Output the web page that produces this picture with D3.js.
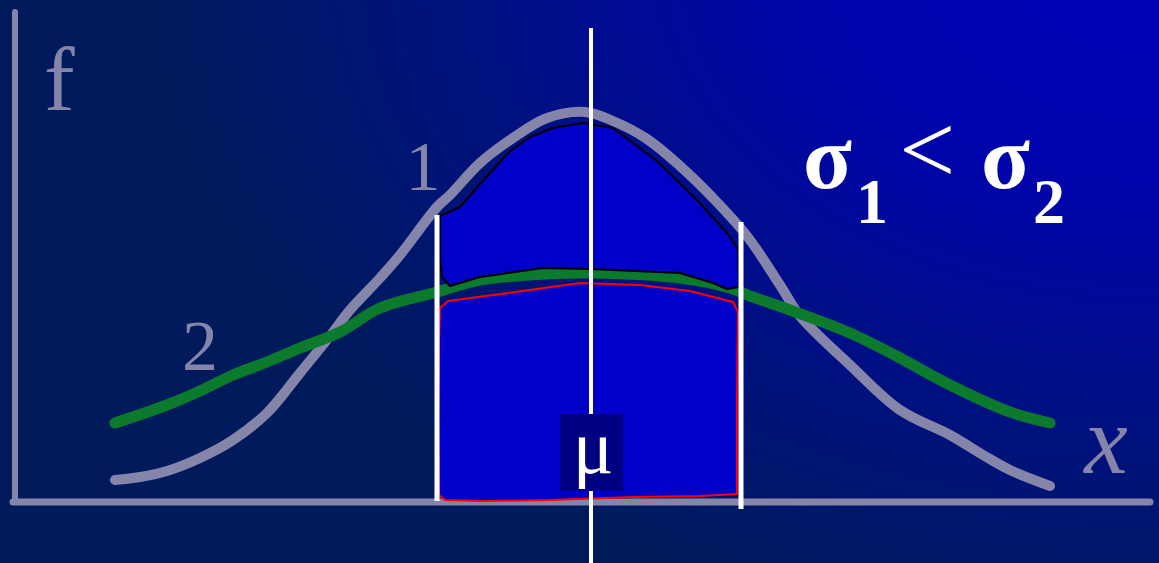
<!DOCTYPE html>
<html>
<head>
<meta charset="utf-8">
<script src="https://cdn.jsdelivr.net/npm/d3@7"></script>
<style>
  html, body { margin: 0; padding: 0; background: #001a5c; overflow: hidden; }
  svg { display: block; }
</style>
</head>
<body>
<div id="chart"></div>
<script>
// Hand-read positions (x along the axis, height above the axis)
const curve1X = [100, 125, 152, 185, 218, 252, 285, 315, 335, 365, 385, 422, 435, 465, 498, 532, 570, 598, 632, 665, 698, 732, 765, 785, 835, 885, 935, 968, 995, 1035];
const curve1Y = [22, 25, 31, 44, 62, 89, 129, 166, 192, 224, 247, 295, 307, 339, 364, 384, 390, 381, 363, 336, 304, 266, 217, 186, 137, 92, 67, 47, 32, 16];

const curve2X = [100, 152, 185, 218, 252, 285, 325, 365, 422, 465, 532, 575, 665, 715, 735, 775, 835, 885, 935, 995, 1035];
const curve2Y = [79, 97, 111, 127, 140, 154, 170, 194, 210, 222, 228, 229, 224, 214, 206, 192, 169, 144, 117, 90, 79];

// Area between curve 1 and curve 2 inside the interval
const upperX = [425, 445, 465, 475, 493, 515, 538, 568, 598, 642, 682, 712, 723, 724, 712, 698, 665, 575, 528, 465, 435, 427, 425];
const upperY = [286, 295, 318, 329, 349, 365, 374, 379, 374, 341, 302, 269, 253, 215, 213, 219, 229, 233, 234, 225, 216, 225, 245];

// Area under curve 2 inside the interval
const lowerX = [425, 433, 500, 565, 625, 675, 718, 723, 722, 722, 685, 618, 535, 468, 430, 424, 423, 424];
const lowerY = [194, 201, 210, 219, 217, 211, 200, 190, 102, 8, 6, 5, 2, 1, 2, 7, 82, 162];

// Vertical markers: interval bounds and mean
const markerX = [422, 726, 576];
const markerTop = [287, 280, 474];
const markerBottom = [1, -7, -61];

const W = 1159, H = 563;
const x = d3.scaleLinear().domain([0, 1135]).range([15, 1150]);
const y = d3.scaleLinear().domain([0, 490]).range([502, 12]);

const AXIS = '#8585aa';
const GREEN = '#0b7a2c';
const FILL = '#0000c8';
const SERIF = "'Liberation Serif','Times New Roman','DejaVu Serif',serif";

const svg = d3.select('#chart').append('svg')
  .attr('width', W).attr('height', H)
  .attr('viewBox', `0 0 ${W} ${H}`);

const defs = svg.append('defs');
const grad = defs.append('radialGradient')
  .attr('id', 'bg')
  .attr('gradientUnits', 'userSpaceOnUse')
  .attr('cx', 0).attr('cy', 0).attr('r', 1)
  .attr('gradientTransform', 'translate(1159,-40) scale(1000,680)');
[[0, '#0000b8'], [0.35, '#0004aa'], [0.7, '#00117e'], [1, '#001a5c']].forEach(([o, c]) => {
  grad.append('stop').attr('offset', o).attr('stop-color', c);
});

svg.append('rect').attr('width', W).attr('height', H).attr('fill', 'url(#bg)');

// ── Axes ──────────────────────────────────────────────────────────────────
svg.append('line')
  .attr('x1', x(0)).attr('x2', x(0))
  .attr('y1', y(490)).attr('y2', y(0))
  .attr('stroke', AXIS).attr('stroke-width', 6).attr('stroke-linecap', 'round');
svg.append('line')
  .attr('x1', x(-2)).attr('x2', x(1135))
  .attr('y1', y(0)).attr('y2', y(0))
  .attr('stroke', AXIS).attr('stroke-width', 7).attr('stroke-linecap', 'round');

// ── Density curves ────────────────────────────────────────────────────────
const line = d3.line().x(d => x(d[0])).y(d => y(d[1])).curve(d3.curveCatmullRom);

svg.append('path')
  .datum(d3.zip(curve1X, curve1Y))
  .attr('d', line)
  .attr('fill', 'none').attr('stroke', AXIS).attr('stroke-width', 10)
  .attr('stroke-linecap', 'round').attr('stroke-linejoin', 'round');

svg.append('path')
  .datum(d3.zip(curve2X, curve2Y))
  .attr('d', line)
  .attr('fill', 'none').attr('stroke', GREEN).attr('stroke-width', 11)
  .attr('stroke-linecap', 'round').attr('stroke-linejoin', 'round');

// ── Shaded areas (drawn over the curves so outlines stay visible) ─────────
const area = d3.line().x(d => x(d[0])).y(d => y(d[1])).curve(d3.curveLinearClosed);

svg.append('path')
  .datum(d3.zip(lowerX, lowerY))
  .attr('d', area)
  .attr('fill', FILL).attr('stroke', '#ff0000').attr('stroke-width', 2)
  .attr('stroke-linejoin', 'round');

svg.append('path')
  .datum(d3.zip(upperX, upperY))
  .attr('d', area)
  .attr('fill', FILL).attr('stroke', '#000000').attr('stroke-width', 2)
  .attr('stroke-linejoin', 'round');

// ── Vertical markers ──────────────────────────────────────────────────────
svg.selectAll('line.marker')
  .data(d3.range(markerX.length)).enter()
  .append('line')
  .attr('class', 'marker')
  .attr('x1', i => x(markerX[i])).attr('x2', i => x(markerX[i]))
  .attr('y1', i => y(markerTop[i])).attr('y2', i => y(markerBottom[i]))
  .attr('stroke', '#ffffff')
  .attr('stroke-width', i => i === 2 ? 4 : 5);

// ── μ label ───────────────────────────────────────────────────────────────
svg.append('rect')
  .attr('x', 560).attr('y', 414).attr('width', 63).attr('height', 77)
  .attr('fill', '#000080');
svg.append('text')
  .attr('x', 593).attr('y', 473)
  .attr('text-anchor', 'middle')
  .attr('font-family', SERIF).attr('font-size', '76px')
  .attr('fill', '#ffffff')
  .text('μ');

// ── Labels ────────────────────────────────────────────────────────────────
const label = (tx, ty, size, txt, opts = {}) => svg.append('text')
  .attr('x', tx).attr('y', ty)
  .attr('text-anchor', opts.anchor || 'start')
  .attr('font-family', SERIF)
  .attr('font-size', size + 'px')
  .attr('font-style', opts.italic ? 'italic' : 'normal')
  .attr('font-weight', opts.bold ? 'bold' : 'normal')
  .attr('fill', opts.fill || AXIS)
  .text(txt);

label(44, 110, 92, 'f');
label(423, 190, 70, '1', { anchor: 'middle' });
label(200, 370, 72, '2', { anchor: 'middle' });
label(1106, 473, 98, 'x', { anchor: 'middle', italic: true });

// σ1 < σ2
label(803, 188, 90, 'σ', { bold: true, fill: '#fff' });
label(856, 223, 64, '1', { bold: true, fill: '#fff' });
label(899, 183, 100, '<', { fill: '#fff' });
label(981, 188, 90, 'σ', { bold: true, fill: '#fff' });
label(1033, 223, 64, '2', { bold: true, fill: '#fff' });
</script>
</body>
</html>
